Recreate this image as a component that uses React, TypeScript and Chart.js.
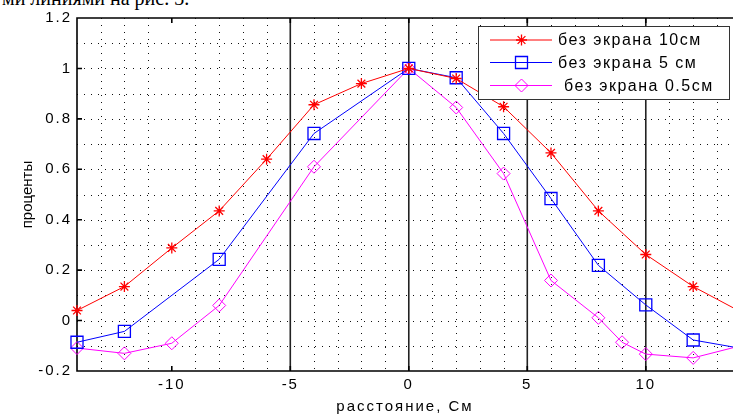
import React, { useEffect, useRef } from 'react';
import { Chart, registerables } from 'chart.js';

Chart.register(...registerables);

// ---- data ----
const seriesLabels = ['без экрана 10см', 'без экрана 5 см', ' без экрана 0.5см'];

const redX = [-14, -12, -10, -8, -6, -4, -2, 0, 2, 4, 6, 8, 10, 12, 14];
const redY = [0.04, 0.135, 0.288, 0.435, 0.64, 0.856, 0.94, 1.0, 0.96, 0.848, 0.665, 0.435, 0.262, 0.135, 0.035];

const blueX = [-14, -12, -8, -4, 0, 2, 4, 6, 8, 10, 12, 14];
const blueY = [-0.086, -0.043, 0.243, 0.742, 1.0, 0.963, 0.742, 0.484, 0.219, 0.062, -0.077, -0.11];

const magX = [-14, -12, -10, -8, -4, 0, 2, 4, 6, 8, 9, 10, 12, 14];
const magY = [-0.109, -0.13, -0.09, 0.06, 0.61, 1.0, 0.845, 0.583, 0.159, 0.011, -0.086, -0.133, -0.148, -0.1];

const xTicks = [-10, -5, 0, 5, 10];
const xTickLabels = ['-10', '-5', '0', '5', '10'];
const yTicks = [-0.2, 0, 0.2, 0.4, 0.6, 0.8, 1, 1.2];
const yTickLabels = ['-0.2', '0', '0.2', '0.4', '0.6', '0.8', '1', '1.2'];
const xSolidLines = [-5, 0, 5, 10];
const xDottedGrid = [-13, -12, -11, -9, -8, -7, -6, -4, -3, -2, -1, 1, 2, 3, 4, 6, 7, 8, 9, 11, 12, 13];
const yDottedGrid = [-0.1, 0, 0.1, 0.2, 0.3, 0.4, 0.5, 0.6, 0.7, 0.8, 0.9, 1.0, 1.1];
const xRange = [-14, 13.68];
const yRange = [-0.2, 1.2];
const xTitle = 'расстояние, См';
const yTitle = 'проценты';
const captionText = 'ми линиями на рис. 3.';

const FONT = '"Liberation Sans", Arial, sans-serif';
const colors = ['#ff0000', '#0000ff', '#ff00ff'];

function drawMarker(ctx: CanvasRenderingContext2D, kind: number, x: number, y: number) {
  ctx.save();
  ctx.strokeStyle = colors[kind];
  ctx.beginPath();
  if (kind === 0) {
    const r = 5.5;
    ctx.lineWidth = 1.3;
    ctx.moveTo(x - r, y); ctx.lineTo(x + r, y);
    ctx.moveTo(x, y - r); ctx.lineTo(x, y + r);
    const d = r * Math.SQRT1_2;
    ctx.moveTo(x - d, y - d); ctx.lineTo(x + d, y + d);
    ctx.moveTo(x - d, y + d); ctx.lineTo(x + d, y - d);
  } else if (kind === 1) {
    ctx.lineWidth = 1.3;
    ctx.rect(x - 6, y - 6, 12, 12);
  } else {
    ctx.lineWidth = 1;
    ctx.moveTo(x - 6.5, y); ctx.lineTo(x, y - 6.5); ctx.lineTo(x + 6.5, y); ctx.lineTo(x, y + 6.5);
    ctx.closePath();
  }
  ctx.stroke();
  ctx.restore();
}

const matlabFrame = {
  id: 'matlabFrame',
  beforeDraw(chart: any) {
    (chart.ctx as any).letterSpacing = '2px';
  },
  beforeDatasetsDraw(chart: any) {
    const { ctx, chartArea: a, scales } = chart;
    const xs = scales.x;
    const ys = scales.y;
    ctx.save();
    (ctx as any).letterSpacing = '0px';
    // dotted grid
    ctx.strokeStyle = '#111';
    ctx.lineWidth = 1;
    ctx.setLineDash([1, 6]);
    ctx.beginPath();
    for (const v of xDottedGrid) {
      const px = Math.round(xs.getPixelForValue(v)) + 0.5;
      ctx.moveTo(px, a.top);
      ctx.lineTo(px, a.bottom);
    }
    for (const v of yDottedGrid) {
      const py = Math.round(ys.getPixelForValue(v)) + 0.5;
      ctx.moveTo(a.left, py);
      ctx.lineTo(a.right, py);
    }
    ctx.stroke();
    ctx.setLineDash([]);
    // solid vertical lines
    ctx.strokeStyle = '#222';
    ctx.lineWidth = 1.6;
    ctx.beginPath();
    for (const v of xSolidLines) {
      const px = xs.getPixelForValue(v);
      ctx.moveTo(px, a.top);
      ctx.lineTo(px, a.bottom);
    }
    ctx.stroke();
    // axes box
    ctx.strokeStyle = '#000';
    ctx.lineWidth = 1.6;
    ctx.beginPath();
    ctx.moveTo(a.right + 2, a.top);
    ctx.lineTo(a.left, a.top);
    ctx.lineTo(a.left, a.bottom);
    ctx.lineTo(a.right + 2, a.bottom);
    // ticks inward
    for (const v of xTicks) {
      const px = xs.getPixelForValue(v);
      ctx.moveTo(px, a.bottom);
      ctx.lineTo(px, a.bottom - 5);
      ctx.moveTo(px, a.top);
      ctx.lineTo(px, a.top + 5);
    }
    for (const v of yTicks) {
      const py = ys.getPixelForValue(v);
      ctx.moveTo(a.left, py);
      ctx.lineTo(a.left + 5, py);
    }
    ctx.stroke();
    ctx.restore();
  },
  afterDraw(chart: any) {
    const ctx = chart.ctx as CanvasRenderingContext2D;
    const a = chart.chartArea;
    ctx.save();
    // y title
    (ctx as any).letterSpacing = '0px';
    ctx.fillStyle = '#000';
    ctx.font = `15px ${FONT}`;
    ctx.textAlign = 'center';
    ctx.textBaseline = 'middle';
    ctx.translate(28, (a.top + a.bottom) / 2);
    ctx.rotate(-Math.PI / 2);
    ctx.fillText(yTitle, 0, 0);
    ctx.restore();

    // legend
    ctx.save();
    const bx = 478.5, by = 26.5, bw = 251, bh = 73;
    ctx.fillStyle = '#fff';
    ctx.fillRect(bx, by, bw, bh);
    ctx.strokeStyle = '#333';
    ctx.lineWidth = 1;
    ctx.strokeRect(bx, by, bw, bh);
    const rows = [40, 62.5, 85.5];
    for (let i = 0; i < 3; i++) {
      const ry = rows[i];
      ctx.strokeStyle = colors[i];
      ctx.lineWidth = 1;
      ctx.beginPath();
      ctx.moveTo(490, ry);
      ctx.lineTo(552, ry);
      ctx.stroke();
      drawMarker(ctx, i, 521.5, ry);
      (ctx as any).letterSpacing = '1.5px';
      ctx.fillStyle = '#000';
      ctx.font = `16px ${FONT}`;
      ctx.textAlign = 'left';
      ctx.textBaseline = 'middle';
      ctx.fillText(seriesLabels[i], 558, ry + 1);
    }
    ctx.restore();
  },
};

function makeData(xv: number[], yv: number[]) {
  return xv.map((x, i) => ({ x, y: yv[i] }));
}

export default function App() {
  const ref = useRef<HTMLCanvasElement | null>(null);

  useEffect(() => {
    document.body.style.margin = '0';
    const canvas = ref.current;
    if (!canvas) return;
    const chart = new Chart(canvas, {
      type: 'line',
      data: {
        datasets: [
          {
            label: seriesLabels[0],
            data: makeData(redX, redY),
            borderColor: colors[0],
            borderWidth: 1,
            pointStyle: 'star',
            pointRadius: 5.5,
            pointBorderWidth: 1.3,
            pointBorderColor: colors[0],
            pointBackgroundColor: 'rgba(0,0,0,0)',
            tension: 0,
            clip: false as any,
          },
          {
            label: seriesLabels[1],
            data: makeData(blueX, blueY),
            borderColor: colors[1],
            borderWidth: 1,
            pointStyle: 'rect',
            pointRadius: 8.5,
            pointBorderWidth: 1.3,
            pointBorderColor: colors[1],
            pointBackgroundColor: 'rgba(0,0,0,0)',
            tension: 0,
            clip: false as any,
          },
          {
            label: seriesLabels[2],
            data: makeData(magX, magY),
            borderColor: colors[2],
            borderWidth: 1,
            pointStyle: 'rectRot',
            pointRadius: 6.5,
            pointBorderWidth: 1,
            pointBorderColor: colors[2],
            pointBackgroundColor: 'rgba(0,0,0,0)',
            tension: 0,
            clip: false as any,
          },
        ],
      },
      options: {
        responsive: false,
        animation: false,
        layout: { autoPadding: false, padding: { top: 18, left: 0, right: 0, bottom: 0 } },
        plugins: { legend: { display: false }, tooltip: { enabled: false } },
        scales: {
          x: {
            type: 'linear',
            min: xRange[0],
            max: xRange[1],
            grid: { display: false, drawTicks: false },
            border: { display: false },
            afterBuildTicks: (s: any) => {
              s.ticks = xTicks.map((v) => ({ value: v }));
            },
            afterFit: (s: any) => {
              s.height = 43;
              s.paddingLeft = 0;
              s.paddingRight = 0;
            },
            ticks: {
              color: '#000',
              font: { family: FONT, size: 15 },
              padding: 5,
              maxRotation: 0,
              autoSkip: false,
              callback: (_v: any, i: number) => xTickLabels[i],
            },
            title: {
              display: true,
              text: xTitle,
              color: '#000',
              font: { family: FONT, size: 15, lineHeight: 1 },
              padding: 0,
            },
          },
          y: {
            type: 'linear',
            min: yRange[0],
            max: yRange[1],
            grid: { display: false, drawTicks: false },
            border: { display: false },
            afterBuildTicks: (s: any) => {
              s.ticks = yTicks.map((v) => ({ value: v }));
            },
            afterFit: (s: any) => {
              s.width = 77;
              s.paddingTop = 0;
              s.paddingBottom = 0;
            },
            ticks: {
              color: '#000',
              font: { family: FONT, size: 15 },
              padding: 5,
              callback: (_v: any, i: number) => yTickLabels[i],
            },
          },
        },
      },
      plugins: [matlabFrame],
    });
    return () => chart.destroy();
  }, []);

  return (
    <div
      style={{
        position: 'fixed',
        left: 0,
        top: 0,
        width: 733,
        height: 414,
        overflow: 'hidden',
        background: '#fff',
      }}
    >
      <div
        style={{
          position: 'absolute',
          left: 2,
          top: -12.5,
          fontFamily: '"Liberation Serif", "Times New Roman", serif',
          fontSize: 20,
          lineHeight: '20px',
          whiteSpace: 'nowrap',
          color: '#000',
        }}
      >
        {captionText}
      </div>
      <canvas ref={ref} width={733} height={414} style={{ position: 'absolute', left: 0, top: 0 }} />
    </div>
  );
}
